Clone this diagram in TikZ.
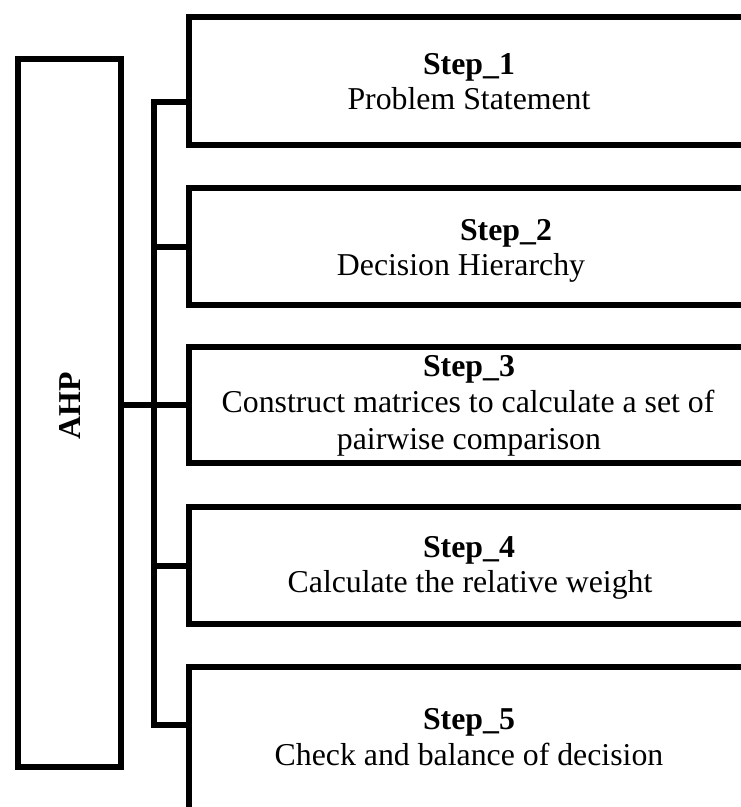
\documentclass[tikz,border=0pt]{standalone}
\usepackage{fontspec}
\setmainfont{Liberation Serif}
\begin{document}
\begin{tikzpicture}[x=1pt,y=-1pt,
  frame/.style={draw=black,line width=6pt,rectangle,inner sep=0pt},
  wire/.style={draw=black,line width=6pt},
  txt/.style={font=\fontsize{31.8}{35}\selectfont,inner sep=0pt,anchor=base},
  head/.style={txt,font=\fontsize{31.8}{35}\selectfont\bfseries}]
\useasboundingbox (0,0) rectangle (741,807);
\clip (0,0) rectangle (741,807);

% main block
\node[frame,minimum width=103pt,minimum height=708pt] (ahp) at (69.5,413) {};
\node[font=\fontsize{31.8}{35}\selectfont\bfseries,inner sep=0pt,rotate=90] (ahplabel) at (70,406) {AHP};

% step boxes (open to the right, running off the page)
\node[frame,minimum width=611pt,minimum height=128pt] (b1) at (494.5,81) {};
\node[frame,minimum width=611pt,minimum height=117pt] (b2) at (494.5,246.5) {};
\node[frame,minimum width=611pt,minimum height=116pt] (b3) at (494.5,405) {};
\node[frame,minimum width=611pt,minimum height=117pt] (b4) at (494.5,565.5) {};
\node[frame,minimum width=611pt,minimum height=213pt] (b5) at (494.5,773.5) {};

% step texts
\node[head] (t1a) at (469,74) {Step\_1};
\node[txt]  (t1b) at (469,109) {Problem Statement};
\node[head] (t2a) at (506,240) {Step\_2};
\node[txt]  (t2b) at (461,275) {Decision Hierarchy};
\node[head] (t3a) at (469,376) {Step\_3};
\node[txt]  (t3b) at (468,412) {Construct matrices to calculate a set of};
\node[txt]  (t3c) at (469,449) {pairwise comparison};
\node[head] (t4a) at (469,557) {Step\_4};
\node[txt]  (t4b) at (470,592) {Calculate the relative weight};
\node[head] (t5a) at (469,729) {Step\_5};
\node[txt]  (t5b) at (469,765) {Check and balance of decision};

% connectors
\coordinate (bustop) at (154,102);
\coordinate (busbot) at (154,725);
\draw[wire] (b1.west |- bustop) -- (bustop) -- (busbot) -- (b5.west |- busbot);
\draw[wire] (ahp.east |- b3.west) -- (b3.west);
\draw[wire] (bustop |- b2.west) -- (b2.west);
\draw[wire] (bustop |- b4.west) -- (b4.west);
\end{tikzpicture}
\end{document}
